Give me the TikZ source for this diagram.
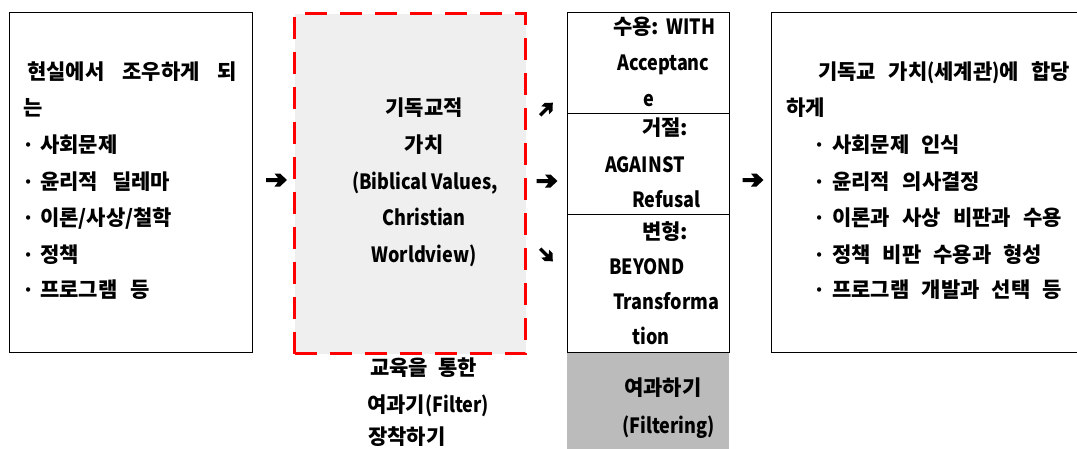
\documentclass[tikz,border=0pt]{standalone}
\usepackage{fontspec}
\setmainfont{Noto Sans CJK KR}
\newcommand{\la}[1]{\scalebox{0.86}[1]{#1}}
\definecolor{boxgray}{HTML}{BBBBBB}
\definecolor{valfill}{HTML}{EFEFEF}
\definecolor{dashred}{HTML}{FF0000}
\begin{document}
\begin{tikzpicture}[x=1pt,y=-1pt,
  txt/.style={anchor=base west, inner sep=0pt, font=\bfseries\fontsize{21}{21}\selectfont},
  ctxt/.style={anchor=base, inner sep=0pt, font=\bfseries\fontsize{21}{21}\selectfont},
  dotmark/.style={anchor=base, inner sep=0pt, font=\bfseries\fontsize{20}{20}\selectfont},
  plainbox/.style={draw=black, line width=0.9pt, anchor=north west, inner sep=0pt},
  valbox/.style={draw=dashred, fill=valfill, line width=3pt, dash pattern=on 22pt off 13pt, anchor=north west, inner sep=0pt},
  graybox/.style={fill=boxgray, anchor=north west, inner sep=0pt},
  warrow/.pic={\fill[black] (-10.5,-2) -- (1.5,-2) -- (-2,-6.5) -- (3.5,-6.5) -- (10.5,0) -- (3.5,6.5) -- (-2,6.5) -- (1.5,2) -- (-10.5,2) -- cycle;}
]
\useasboundingbox (0,0) rectangle (1077,448);
\clip (0,0) rectangle (1077,448);

% boxes
\node[plainbox, minimum width=243pt, minimum height=340pt] (leftbox) at (9,12) {};
\node[valbox, minimum width=231pt, minimum height=340pt] (vbox) at (293,12) {};
\node[graybox, minimum width=162pt, minimum height=110pt] (gbox) at (567,352) {};
\node[plainbox, minimum width=162pt, minimum height=101pt] (mid1) at (567,12) {};
\node[plainbox, minimum width=162pt, minimum height=101pt] (mid2) at (567,113) {};
\node[plainbox, minimum width=162pt, minimum height=138pt] (mid3) at (567,214) {};
\node[plainbox, minimum width=330pt, minimum height=340pt] (rightbox) at (771,12) {};

% arrow symbols
\pic at (276.5,180) {warrow};
\pic[rotate=45, scale=0.85] at (546.5,109) {warrow};
\pic at (547,181) {warrow};
\pic[rotate=-45, scale=0.85] at (546.5,255) {warrow};
\pic at (753,180) {warrow};

% left box text
\node[txt] (l1) at (27,79) {\makebox[210pt][s]{현실에서 조우하게 되}};
\node[txt] (l2) at (23,115) {는};
\node[dotmark] (ld1) at (29,152) {·};
\node[txt] (l3) at (40,152) {사회문제};
\node[dotmark] (ld2) at (29,189) {·};
\node[txt] (l4) at (40,189) {\makebox[130pt][s]{윤리적 딜레마}};
\node[dotmark] (ld3) at (29,225) {·};
\node[txt] (l5) at (40,225) {이론/사상/철학};
\node[dotmark] (ld4) at (29,262) {·};
\node[txt] (l6) at (40,262) {정책};
\node[dotmark] (ld5) at (29,297) {·};
\node[txt] (l7) at (40,297) {\makebox[110pt][s]{프로그램 등}};

% value box text
\node[ctxt] (c1) at (424,115) {기독교적};
\node[ctxt] (c2) at (424,152) {가치};
\node[ctxt] (c3) at (425,189) {\la{(Biblical Values,}};
\node[ctxt] (c4) at (424,225) {\la{Christian}};
\node[ctxt] (c5) at (424,262) {\la{Worldview)}};

% middle column text
\node[txt] (m1) at (613,34) {\makebox[102pt][s]{수용: \la{WITH}}};
\node[txt] (m2) at (617,70) {\la{Acceptanc}};
\node[txt] (m3) at (643,106) {\la{e}};
\node[txt] (m4) at (642,135) {거절:};
\node[txt] (m5) at (605,172) {\la{AGAINST}};
\node[txt] (m6) at (632,207) {\la{Refusal}};
\node[txt] (m7) at (642,239) {변형:};
\node[txt] (m8) at (609,274) {\la{BEYOND}};
\node[txt] (m9) at (613,309) {\la{Transforma}};
\node[txt] (m10) at (632,344) {\la{tion}};
\node[txt] (g1) at (624,395) {여과하기};
\node[txt] (g2) at (622,433) {\la{(Filtering)}};

% labels below value box
\node[txt] (b1) at (370,375) {\makebox[107pt][s]{교육을 통한}};
\node[txt] (b2) at (367,412) {여과기\la{(Filter)}};
\node[txt] (b3) at (368,444) {장착하기};

% right box text
\node[txt] (r1) at (818,79) {\makebox[252pt][s]{기독교 가치\la{(}세계관\la{)}에 합당}};
\node[txt] (r2) at (786,115) {하게};
\node[dotmark] (rd1) at (820,152) {·};
\node[txt] (r3) at (832,152) {\makebox[128pt][s]{사회문제 인식}};
\node[dotmark] (rd2) at (820,189) {·};
\node[txt] (r4) at (832,189) {\makebox[148pt][s]{윤리적 의사결정}};
\node[dotmark] (rd3) at (820,225) {·};
\node[txt] (r5) at (832,225) {\makebox[230pt][s]{이론과 사상 비판과 수용}};
\node[dotmark] (rd4) at (820,262) {·};
\node[txt] (r6) at (832,262) {\makebox[210pt][s]{정책 비판 수용과 형성}};
\node[dotmark] (rd5) at (820,297) {·};
\node[txt] (r7) at (832,297) {\makebox[230pt][s]{프로그램 개발과 선택 등}};
\end{tikzpicture}
\end{document}
